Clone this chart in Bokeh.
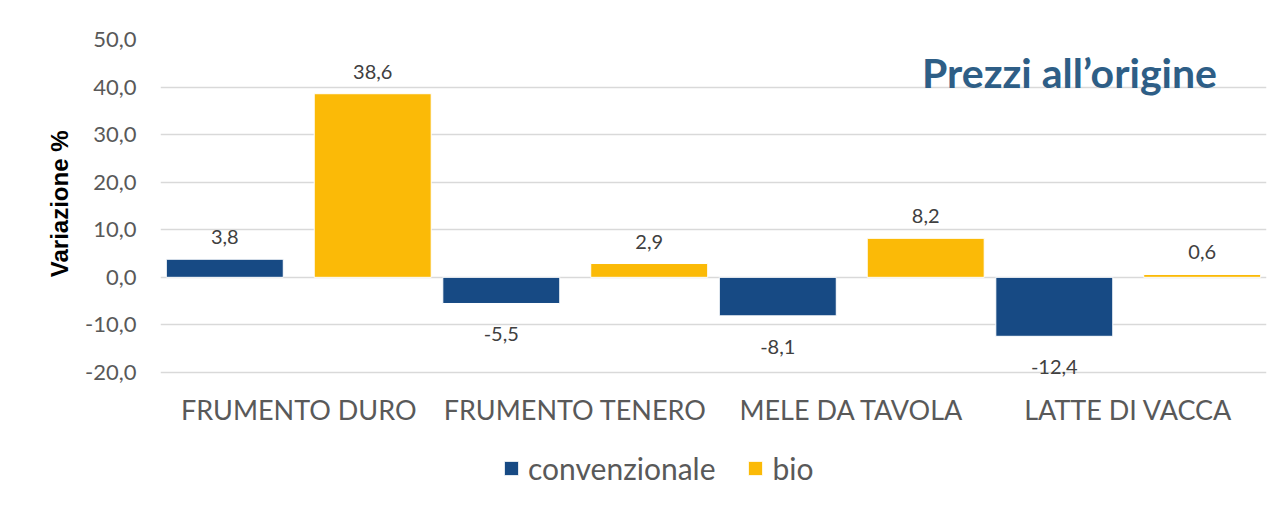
from bokeh.plotting import figure
from bokeh.models import (ColumnDataSource, FactorRange, Range1d, LabelSet, Label, Title,
                          Legend, LegendItem, CustomJSTickFormatter, FixedTicker)
from bokeh.core.properties import value
from bokeh.transform import dodge
from bokeh.embed import file_html
from bokeh.resources import INLINE

categories = ["FRUMENTO DURO", "FRUMENTO TENERO", "MELE DA TAVOLA", "LATTE DI VACCA"]
convenzionale = [3.8, -5.5, -8.1, -12.4]
bio = [38.6, 2.9, 8.2, 0.6]
y_ticks = [-20, -10, 0, 10, 20, 30, 40, 50]

BLUE = "#174A84"
YELLOW = "#FBBA07"
GRID = "#D9D9D9"
TXT = "#595959"
FONT = "Lato"


def fmt(v):
    return f"{v:.1f}".replace(".", ",")


src = ColumnDataSource(dict(
    cat=categories,
    conv=convenzionale,
    bio=bio,
    conv_lbl=[fmt(v) for v in convenzionale],
    bio_lbl=[fmt(v) for v in bio],
    conv_off=[22 if v >= 0 else -31 for v in convenzionale],
    bio_off=[22 if v >= 0 else -31 for v in bio],
    base=[min(y_ticks)] * len(categories),
))

# frame extends below the value axis so the category labels and legend can live inside it
p = figure(width=1279, height=508, output_backend="svg", toolbar_location=None,
           x_range=FactorRange(*categories, range_padding=0),
           y_range=Range1d(-46.5, 50))
p.min_border_left = 160
p.min_border_right = 13
p.min_border_top = 39
p.min_border_bottom = 10
p.outline_line_color = None
p.background_fill_color = "white"
p.border_fill_color = "white"
p.xaxis.visible = False

p.xgrid.grid_line_color = None
p.ygrid.grid_line_color = GRID
p.ygrid.grid_line_width = 1.5
p.yaxis.ticker = FixedTicker(ticks=y_ticks)
p.yaxis.formatter = CustomJSTickFormatter(code="return tick.toFixed(1).replace('.', ',');")

ax = p.yaxis
ax.axis_line_color = None
ax.major_tick_line_color = None
ax.minor_tick_line_color = None
ax.major_tick_out = 0
ax.major_tick_in = 0
ax.major_label_text_color = TXT
ax.major_label_text_font = FONT
ax.major_label_text_font_size = "22px"
ax.major_label_standoff = 24

ytitle = Title(text="Variazione %", align="right", offset=91,
               text_font="Liberation Sans", text_font_style="bold",
               text_font_size="24px", text_color="black", standoff=19)
p.add_layout(ytitle, "left")

r1 = p.vbar(x=dodge("cat", -0.2675, range=p.x_range), top="conv", bottom=0, width=0.423,
            source=src, fill_color=BLUE, line_color="white", line_width=1)
r2 = p.vbar(x=dodge("cat", 0.2675, range=p.x_range), top="bio", bottom=0, width=0.423,
            source=src, fill_color=YELLOW, line_color="white", line_width=1)

for col, lbl, off, d in (("conv", "conv_lbl", "conv_off", -0.2675),
                         ("bio", "bio_lbl", "bio_off", 0.2675)):
    ls = LabelSet(x=dodge("cat", d, range=p.x_range), y=col, text=lbl, y_offset=off,
                  source=src, text_align="center", text_baseline="middle",
                  text_font=value(FONT), text_font_size="20px", text_color="#404040")
    p.add_layout(ls)

cat_labels = LabelSet(x="cat", y="base", text="cat", y_offset=-37, source=src,
                      text_align="center", text_baseline="middle",
                      text_font=value(FONT), text_font_size="27px", text_color=TXT)
p.add_layout(cat_labels)

title = Label(x=909, y=426, x_units="screen", y_units="screen", text="Prezzi all\u2019origine",
              text_align="center", text_baseline="middle", text_font=FONT,
              text_font_style="bold", text_font_size="41px", text_color="#2E5E86")
p.add_layout(title)

legend = Legend(items=[LegendItem(label="convenzionale", renderers=[r1]),
                       LegendItem(label="bio", renderers=[r2])],
                location=(342, 12), orientation="horizontal",
                glyph_width=18, glyph_height=18, label_standoff=8, spacing=31,
                padding=0, margin=0, border_line_color=None, background_fill_alpha=0,
                label_text_font=FONT, label_text_font_size="30px", label_text_color=TXT)
p.add_layout(legend)

open("out.html", "w").write(file_html(p, INLINE))
